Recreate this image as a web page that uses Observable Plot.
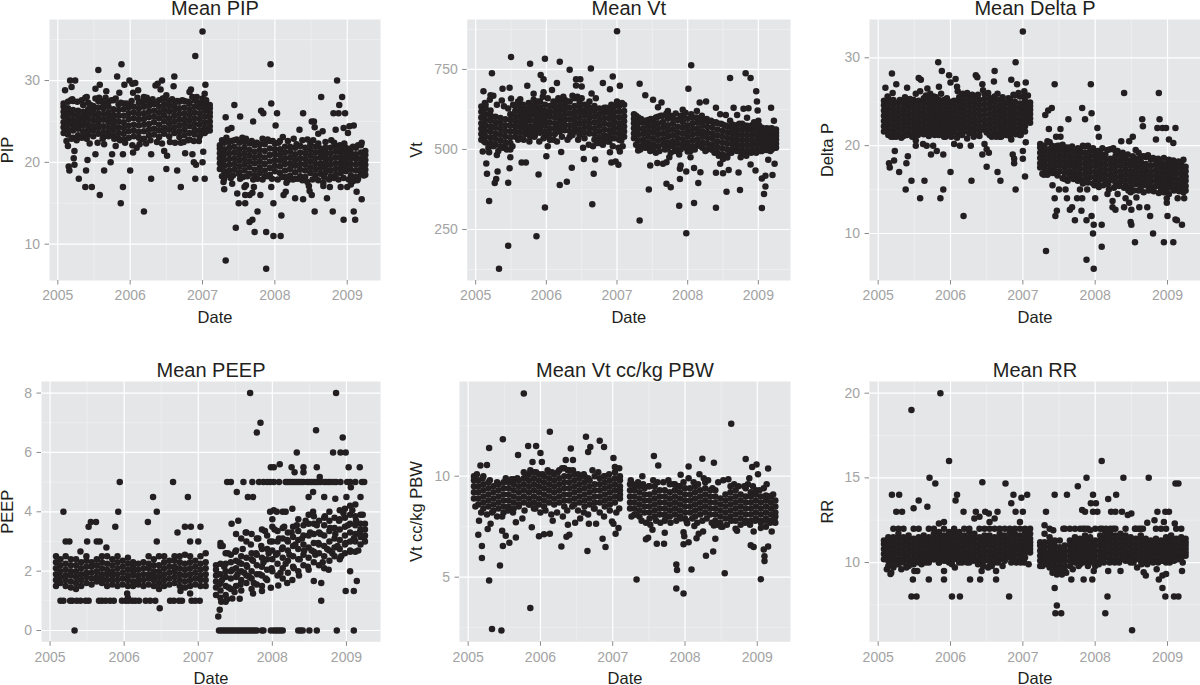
<!DOCTYPE html>
<html><head><meta charset="utf-8">
<script src="https://cdn.jsdelivr.net/npm/d3@7"></script>
<script src="https://cdn.jsdelivr.net/npm/@observablehq/plot@0.6"></script>
<style>
html,body{margin:0;padding:0;background:#fff;width:1200px;height:685px;overflow:hidden}
#chart{position:relative;width:1200px;height:685px}
#chart svg{position:absolute;overflow:visible;background:transparent}
</style></head><body><div id="chart"></div>
<script>
const majorYears=[2005,2006,2007,2008,2009];
const minorYears=[2005.5,2006.5,2007.5,2008.5];
// dates of the dense columns of each cloud
const coreDates=[2005.08,2005.14,2005.21,2005.28,2005.35,2005.42,2005.49,2005.56,2005.63,2005.70,2005.77,2005.84,2005.91,2005.98,2006.05,2006.12,2006.19,2006.26,2006.33,2006.40,2006.47,2006.54,2006.61,2006.68,2006.75,2006.82,2006.89,2006.96,2007.03,2007.10,
2007.24,2007.30,2007.37,2007.44,2007.51,2007.58,2007.65,2007.72,2007.79,2007.86,2007.93,2008.00,2008.07,2008.14,2008.21,2008.28,2008.35,2008.42,2008.49,2008.56,2008.63,2008.70,2008.77,2008.84,2008.91,2008.98,2009.05,2009.12,2009.19,2009.25];
const pipCore=[[23.6,24.3,24.9,25.6,26.2,26.8,27.2],[23.4,24,24.7,25.3,26,26.6,27.4],[23,23.9,24.5,25.1,25.8,26.4,27.5],[23.3,24.1,24.6,25.2,25.7,26.3],[23.1,23.8,24.5,25,25.6,26.2,27],[23.4,24,24.6,25.3,25.9,26.5,27.3],[23.2,23.9,24.4,25.1,25.8,26.4,26.9],[23.5,24.2,24.8,25.4,26,26.7,27.5],[23.1,23.7,24.4,25.2,25.9,26.6,27.2],[23.6,24.2,24.9,25.5,26.1,26.8,27.4],[23.3,24,24.6,25.2,25.8,26.5,27.6],[22.9,23.6,24.3,25,25.7,26.4,27.1],[22.8,23.5,24.2,24.9,25.7,26.5,27.2],[23,23.8,24.5,25.3,26,26.7,27],[23.2,23.9,24.6,25.4,26.1,26.8],[23,23.7,24.5,25.2,25.9,26.6,27.3],[22.9,23.8,24.6,25.3,26,26.8,27.5],[23.3,24,24.7,25.5,26.2,26.9,27.4],[23.4,24.1,24.9,25.6,26.3,27.1],[23.1,23.9,24.6,25.4,26.1,26.8,27.6],[23.5,24.2,25,25.7,26.4,27.1,27.8],[23.2,24,24.7,25.4,26.2,26.9,27.5],[23.6,24.3,25,25.7,26.4,27],[23.1,23.8,24.5,25.2,25.9,26.6,27.4],[23.3,24,24.7,25.3,26,26.7,27.5],[22.8,23.6,24.4,25.1,25.8,26.5,27.2],[23.4,24,24.7,25.4,26.1,26.8,27.6],[23.2,23.9,24.6,25.3,26,26.7,27.3],[23.6,24.2,24.9,25.6,26.3,26.9,27.2],[23.9,24.4,25,25.6,26.1,26.6,27],
[19.2,19.9,20.5,21.1,21.7,22.1],[18.9,19.6,20.3,21,21.6,22.4],[19,19.7,20.4,21.1,21.8,22.5],[19.1,19.8,20.5,21.2,21.9,22.7],[18.8,19.5,20.2,20.9,21.6,22.4],[19,19.7,20.4,21.1,21.8,22.5],[18.6,19.4,20.1,20.8,21.5,22.3],[18.4,19.1,19.9,20.6,21.3,22.1],[18.7,19.4,20.1,20.8,21.5,22.2],[18.3,19,19.8,20.6,21.4,22.2],[18.5,19.3,20.1,20.9,21.7,22.6],[18.9,19.6,20.3,21,21.6,22.3],[18.7,19.5,20.2,20.9,21.6,22.6],[18.2,19,19.8,20.5,21.2,21.9],[18.4,19.2,19.9,20.6,21.3,21.9],[18,18.8,19.6,20.3,21,21.8],[18.3,19.1,19.8,20.5,21.2,22],[18.2,19,19.7,20.4,21.1,21.8],[18.7,19.4,20.1,20.8,21.5,22.2],[18.4,19.1,19.8,20.5,21.2,21.9],[18.6,19.3,19.9,20.6,21.2,21.7],[18.8,19.4,20,20.6,21.2,21.8],[18.3,19,19.7,20.4,21.1,21.8],[18.5,19.2,19.9,20.6,21.3,22],[18.7,19.3,19.9,20.5,21.1,21.6],[18.9,19.5,20.1,20.7,21.3,21.8],[18.4,19.1,19.8,20.5,21.1,21.7],[18.2,19,19.7,20.4,21,21.8],[18.6,19.2,19.9,20.5,21.2,22.1],[18.5,19.1,19.7,20.3,20.9,21.4]];
const vtCore=[[530,548,565,582,600,618,634],[522,540,558,575,592,610,628,640],[520,537,555,572,590,606,622],[515,533,550,568,585,602],[510,528,546,564,582,598],[505,522,540,558,576,594],[500,520,538,556,574,592,610],[540,556,572,588,604,620,636],[535,552,570,586,602,618,634],[548,564,580,596,612,628],[540,556,572,590,606,622,638],[545,560,576,592,610,626,640],[552,568,584,600,616,632,650],[540,556,574,590,606,622,640],[530,548,566,584,602,618,636],[548,565,582,600,616,632,648],[555,572,588,604,620,636,652],[560,576,592,608,624,640,655],[540,558,576,594,612,630,650],[555,570,586,602,618,636,660],[545,562,580,598,616,632,648],[535,552,570,588,606,622,640],[550,566,582,598,614,630,650],[530,548,566,584,602,620,636],[520,538,556,574,592,610,628],[528,544,562,580,598,616,630],[525,542,560,578,596,612,626],[535,552,568,586,602,618,634],[530,548,566,582,600,618,636],[540,556,572,588,604,620,640],
[535,550,566,582,596,610],[510,528,546,564,582,600],[515,532,550,566,584,590],[505,522,540,558,576,592],[498,516,534,552,570,588],[510,528,546,564,582,602],[515,532,550,568,586,605],[505,522,540,558,576,596],[510,526,544,562,580,598],[500,518,536,554,572,592],[515,532,550,568,586,604],[505,522,540,558,576,596],[510,528,546,564,582,600],[515,532,550,566,584,598],[505,522,540,556,574,590],[500,518,536,552,570,588],[498,516,534,550,568,586],[490,508,526,544,562,582],[485,504,522,540,558,578],[482,500,518,536,554,572],[500,516,532,548,564,578],[496,512,528,544,560,576],[498,514,530,546,562,580],[495,512,528,544,560,574],[498,514,530,546,562,576],[500,516,530,546,560,574],[495,512,528,542,556,568],[498,512,526,540,554,566],[500,514,528,542,554,566],[505,518,530,542,552,562]];
const deltaCore=[[21.6,22.2,22.8,23.4,24,24.6,25.1],[21.2,21.8,22.4,23,23.6,24.2,24.8,25.4],[21,21.6,22.2,22.8,23.4,24,24.6,25.2],[21.3,21.9,22.5,23.1,23.7,24.3,24.9],[21.1,21.7,22.3,22.9,23.5,24.1,24.7,25],[21.4,22,22.6,23.2,23.8,24.4,24.9],[21.2,21.8,22.4,23,23.6,24.2,24.8,25.2],[21.5,22.1,22.7,23.3,23.9,24.5,25.1],[21.3,21.9,22.5,23.1,23.7,24.3,24.9,25.4],[21.1,21.7,22.3,22.9,23.5,24.1,24.7,25.3],[21.4,22,22.6,23.2,23.8,24.4,25,25.6],[21.2,21.8,22.4,23,23.6,24.2,24.8,25.2],[21,21.6,22.2,22.8,23.4,24,24.6,25.2],[21.3,21.9,22.5,23.1,23.7,24.3,24.9],[21.5,22.1,22.7,23.3,23.9,24.5,25.1],[21.3,21.9,22.5,23.1,23.7,24.3,24.9,25.5],[21.6,22.2,22.8,23.4,24,24.6,25.2,25.8],[21.4,22,22.6,23.2,23.8,24.4,25,25.6],[21.2,21.8,22.4,23,23.6,24.2,24.8,25.4],[21.6,22.2,22.8,23.4,24,24.6,25.2],[21.8,22.3,22.9,23.5,24.1,24.7,25.3,25.9],[21.2,21.8,22.4,23,23.6,24.2,24.8,25.4],[21.4,22,22.6,23.2,23.8,24.4,25,25.6],[21,21.6,22.2,22.8,23.4,24,24.6,25.2],[21.3,21.9,22.5,23.1,23.7,24.3,24.9],[21.1,21.7,22.3,22.9,23.5,24.1,24.7,25.3],[21.4,22,22.6,23.2,23.8,24.4,25,25.7],[21.2,21.8,22.4,23,23.6,24.2,24.8,25.6],[21.6,22.2,22.8,23.4,24,24.6,25.1],[22.6,23.1,23.6,24.1,24.5,24.9],
[17.5,18,18.6,19.2,19.8,20.2],[17,17.6,18.2,18.8,19.4,20],[17.2,17.8,18.4,19,19.6,20.4],[16.9,17.5,18.1,18.7,19.3,19.9],[17.1,17.7,18.3,18.9,19.5,20],[16.2,16.9,17.5,18.1,18.7,19.3,19.8],[16.5,17.1,17.7,18.3,18.9,19.5],[16.3,16.9,17.5,18.1,18.7,19.3],[16.1,16.7,17.3,17.9,18.5,19.1,19.5],[16.2,16.8,17.4,18,18.6,19.2,19.9],[16.4,17,17.6,18.2,18.8,19.4],[15.9,16.5,17.1,17.7,18.3,18.9,19.4],[16.2,16.8,17.4,18,18.6,19.1],[16,16.6,17.2,17.8,18.4,19],[16.1,16.7,17.3,17.9,18.5,19.6],[15.8,16.4,17,17.6,18.2,18.8,19.4],[15.9,16.5,17.1,17.7,18.3,18.9],[15.5,16.1,16.7,17.3,17.9,18.5,18.9],[15.3,15.9,16.5,17.1,17.7,18.3],[15.6,16.2,16.8,17.4,18,18.5,19.5],[15.2,15.8,16.4,17,17.6,18.2,18.8],[15.5,16.1,16.7,17.3,17.9,18.7],[15.3,15.9,16.5,17.1,17.7,18.4],[15.4,16,16.6,17.2,17.8,18.3],[15.1,15.7,16.3,16.9,17.5,18],[14.9,15.5,16.1,16.7,17.3,17.9],[15.2,15.8,16.4,17,17.6,18.2],[15,15.6,16.2,16.8,17.4,18],[15.2,15.8,16.3,16.9,17.4,17.9],[14.9,15.4,16,16.5,17.1,17.6]];
const peepCore=[[1.5,1.7,1.9,2.1,2.3,2.5],[1.6,1.8,2,2.2,2.4],[1.5,1.7,1.85,2.05,2.25,2.5],[1.45,1.65,1.85,2,2.2,2.4],[1.4,1.6,1.8,2,2.2,2.4],[1.5,1.7,1.9,2.1,2.3],[1.6,1.8,1.95,2.15,2.35,2.5],[1.55,1.75,1.95,2.15,2.3],[1.65,1.8,2,2.2,2.4],[1.6,1.75,1.9,2.1,2.3,2.5],[1.5,1.7,1.9,2.05,2.25,2.5],[1.55,1.7,1.85,2,2.2,2.4],[1.5,1.7,1.9,2.1,2.3,2.5],[1.55,1.75,1.95,2.15,2.35],[1.5,1.7,1.85,2.05,2.25,2.45],[1.5,1.65,1.85,2,2.15,2.3],[1.55,1.7,1.85,2.05,2.25],[1.5,1.7,1.9,2.1,2.3],[1.55,1.75,1.9,2.1,2.25,2.5],[1.5,1.7,1.85,2,2.2,2.4],[1.4,1.6,1.8,2,2.2,2.5],[1.5,1.7,1.9,2.1,2.3,2.5],[1.55,1.75,1.95,2.15,2.35],[1.6,1.8,2,2.15,2.35,2.5],[1.5,1.7,1.9,2.1,2.3,2.5],[1.45,1.65,1.85,2.05,2.25,2.55],[1.5,1.7,1.9,2.1,2.3,2.5],[1.55,1.75,1.95,2.15,2.35],[1.5,1.7,1.85,2.05,2.25,2.5],[1.5,1.7,1.9,2.1,2.3,2.6],
[1.2,1.45,1.65,1.85,2.05,2.2],[1.1,1.35,1.6,1.9,2.25,2.85],[1.2,1.5,1.8,2,2.25,2.6],[1.4,1.75,2,2.3,2.55],[1.5,1.8,2.1,2.35,2.7,3.25],[1.35,1.7,2,2.25,2.5,3.1],[1.6,1.85,2.2,2.45,3,3.3],[1.4,1.75,2,2.4,2.6,3.25],[1.55,1.9,2.2,2.55,3.1],[1.5,1.85,2.15,2.45,2.75,3.4],[1.7,2.05,2.4,2.75,3.2],[2,2.4,2.7,3,3.5,3.75],[1.85,2.25,2.6,3,3.35],[1.75,2.1,2.45,2.8,3.1,3.45],[1.95,2.35,2.7,3,3.3],[2.15,2.5,2.85,3.15,3.5],[2,2.4,2.75,3.05,3.35,3.75],[2.2,2.55,2.9,3.2,3.55],[2.05,2.45,2.8,3.2,3.6,3.9],[2.3,2.65,2.95,3.25,3.6,3.85],[2.2,2.6,2.9,3.3,3.7],[2.1,2.5,2.85,3.2,3.55,3.8],[2.35,2.7,3,3.35,3.7,4],[2.5,2.8,3.1,3.45,3.8],[2.4,2.75,3.05,3.4,3.75,4.05],[2.6,2.9,3.2,3.5,3.8,4.1],[2.7,3,3.3,3.6,3.9,4.2],[2.65,3,3.25,3.55,3.85,4.25],[2.9,3.15,3.4,3.6,3.9],[3,3.2,3.4,3.6]];
const vtKgCore=[[8.9,9.2,9.5,9.8,10],[8.6,8.9,9.2,9.5,9.8],[8.4,8.7,9,9.3,9.6,10],[8.5,8.8,9.1,9.4,9.7],[8.3,8.6,8.9,9.2,9.5],[8.4,8.7,9,9.3,9.6],[8.2,8.5,8.8,9.1,9.4,9.7],[8.5,8.8,9.1,9.4,9.7],[8.4,8.7,9,9.3,9.6,9.85],[8.6,8.9,9.2,9.5,9.8],[8.7,9,9.3,9.6,9.9,10.2],[8.6,8.9,9.2,9.5,9.8,10.1],[8.4,8.7,9,9.3,9.6,9.9,10.2],[8.6,8.9,9.2,9.5,9.8,10.1],[8.5,8.8,9.1,9.4,9.7,10],[8.7,9,9.3,9.6,9.9,10.2],[8.6,8.9,9.2,9.5,9.8,10.1],[8.7,9,9.3,9.6,9.9,10.3],[8.5,8.8,9.1,9.4,9.7,10,10.4],[8.8,9.1,9.4,9.7,10,10.3],[8.6,8.9,9.2,9.5,9.8,10.1],[8.7,9,9.3,9.6,9.9],[8.5,8.8,9.1,9.4,9.7,10],[8.6,8.9,9.2,9.5,9.8],[8.4,8.7,9,9.3,9.6,10],[8.7,9,9.3,9.6,9.9],[8.5,8.8,9.1,9.4,9.7,10],[8.6,8.9,9.2,9.5,9.8],[8.7,9,9.3,9.6,9.9,10.2],[8.9,9.1,9.3,9.5,9.8,10],
[8.4,8.7,9,9.3,9.6],[8.1,8.4,8.7,9,9.3,9.5],[8,8.3,8.6,8.9,9.2,9.5],[8.2,8.5,8.8,9.1,9.4],[7.9,8.2,8.5,8.8,9.1,9.5],[8,8.3,8.6,8.9,9.2,9.5],[8.1,8.4,8.7,9,9.3],[7.8,8.1,8.4,8.7,9,9.3],[8,8.3,8.6,8.9,9.2,9.6],[8.1,8.4,8.7,9,9.3,9.6],[8,8.3,8.6,8.9,9.2,9.5],[7.9,8.2,8.5,8.8,9.1,9.4],[8.2,8.5,8.8,9.1,9.4],[8,8.3,8.6,8.9,9.2,9.5],[8.1,8.4,8.7,9,9.3],[8.2,8.5,8.8,9.1,9.4,9.7],[8.1,8.4,8.7,9,9.3],[7.8,8.1,8.4,8.7,9,9.3],[7.7,8,8.3,8.6,8.9],[7.9,8.2,8.5,8.8,9.1],[8,8.3,8.6,8.9,9.2,9.5],[7.8,8.1,8.4,8.7,9,9.3],[7.9,8.2,8.5,8.8,9.1],[7.8,8.1,8.4,8.7,9,9.4],[7.8,8.1,8.4,8.7,9,9.2],[7.9,8.2,8.5,8.8,9.1,9.3],[7.8,8.1,8.4,8.7,9],[7.9,8.2,8.5,8.8,9.05],[7.8,8.1,8.4,8.7,9],[7.7,8,8.2,8.5,8.8]];
const rrCore=[[10.2,10.5,10.8,11.1,11.3],[9.8,10.1,10.4,10.7,11,11.3,11.5],[9.7,10,10.3,10.6,10.9,11.2,11.5,12],[9.9,10.2,10.5,10.8,11.1,11.4,11.7,12],[10,10.3,10.6,10.9,11.2,11.5,12],[9.8,10.1,10.4,10.7,11,11.3,11.6],[9.9,10.2,10.5,10.8,11.1,11.4,12],[10,10.3,10.6,10.9,11.2,11.5,12],[10.1,10.4,10.7,11,11.3,11.6],[10,10.3,10.6,10.9,11.2,11.5,12],[10.2,10.5,10.8,11.1,11.4,11.7,12],[10,10.3,10.6,10.9,11.2,11.5,11.8,12.3],[10.1,10.4,10.7,11,11.3,11.6,12,12.4],[10,10.3,10.6,10.9,11.2,11.5,11.8],[10.2,10.5,10.8,11.1,11.4,11.7,12],[10,10.3,10.6,10.9,11.2,11.5,11.8],[10.1,10.4,10.7,11,11.3,11.6,12],[10,10.3,10.6,10.9,11.2,11.5,11.8,12],[10.2,10.5,10.8,11.1,11.4,11.7,12.6],[10,10.3,10.6,10.9,11.2,11.5,12,12.7],[10.1,10.4,10.7,11,11.3,11.6,12],[9.8,10.1,10.4,10.7,11,11.3,11.6,12,12.4],[10,10.3,10.6,10.9,11.2,11.5,12,12.6],[10.2,10.5,10.8,11.1,11.4,11.7,12],[10.1,10.4,10.7,11,11.3,11.6,12],[10.3,10.6,10.9,11.2,11.5,11.8,12],[10.2,10.5,10.8,11.1,11.4,11.7,12],[10.1,10.4,10.7,11,11.3,11.6,12,12.4],[10.3,10.6,10.9,11.2,11.5,11.8,12],[10.6,10.8,11,11.2,11.4,11.7,12],
[9.8,10.1,10.4,10.7,11,11.2],[10,10.3,10.6,10.9,11.2,11.7,12.2],[9.7,10,10.3,10.6,10.9,11.2,11.5],[9.5,9.8,10.1,10.4,10.7,11,11.3],[9.4,9.7,10,10.3,10.6,10.9,11.3],[9.5,9.8,10.1,10.4,10.7,11,12],[9.8,10.1,10.4,10.7,11,11.3,12],[10,10.3,10.6,10.9,11.2,11.5,12],[9.9,10.2,10.5,10.8,11.1,11.4,12],[10.1,10.4,10.7,11,11.3,11.6,12],[10,10.3,10.6,10.9,11.2,11.5,11.9],[9.8,10.1,10.4,10.7,11,11.3,12],[10.1,10.4,10.7,11,11.3,11.6,12],[10.3,10.6,10.9,11.2,11.5,11.8],[10.2,10.5,10.8,11.1,11.4,11.7,12],[10.1,10.4,10.7,11,11.3,11.6,12],[10.2,10.5,10.8,11.1,11.4,11.7],[10.1,10.4,10.7,11,11.3,11.6,12],[10,10.3,10.6,10.9,11.2,11.5],[10.2,10.5,10.8,11.1,11.4,12],[10.1,10.4,10.7,11,11.3,11.6,12],[10,10.3,10.6,10.9,11.2,11.4],[10.1,10.4,10.7,11,11.3],[10.2,10.5,10.8,11.1,11.4,12],[10.1,10.4,10.7,11,11.3,12],[10,10.3,10.6,10.9,11.2,11.5,12],[10.1,10.4,10.7,11,11.3,11.6],[10.2,10.5,10.8,11.1,11.4,12],[10.3,10.6,10.9,11.2,11.5,12],[10.4,10.6,10.8,11,11.2,11.4]];
// sparse points, date then value
const pipOut=[2007,36,2006.9,33,2007.94,32,2005.88,32,2005.56,31.3,2005.82,30.5,2006.61,30.5,2005.17,30,2005.24,30,2005.99,30,2006.44,30,2008.86,30,2008.93,28,2008.64,28,2008.89,27,2007.44,27,2008.81,26,2008.88,26,2008.97,26,2008.39,26,2008.03,26,2007.81,26.3,2007.84,26,2007.95,27.2,2007.32,25.5,2007.52,25.6,2007.7,25,2008.01,24.5,2008.51,25,2008.54,25,2008.55,24.3,2008.66,23.8,2008.34,24,2008.6,23.5,2008.84,24,2008.95,24.2,2009.03,24.4,2009.09,24.5,2009.01,23.6,2007.35,24,2007.4,24.2,2005.1,28.8,2005.19,29.2,2005.52,29,2005.58,29.5,2005.67,28.7,2005.85,28.5,2005.92,29.5,2006.03,29.6,2006.07,29.7,2006.04,28.5,2006.11,28.8,2006.19,28,2006.35,29.4,2006.38,29.6,2006.42,28.9,2006.6,29.3,2006.84,28.9,2006.82,28.6,2007.04,29.5,2007.03,28.4,2006.92,28,2005.4,28,2005.18,27.6,2005.57,27.9,2005.14,22,2005.23,21.4,2005.22,20.5,2005.23,19.7,2005.15,19.5,2005.16,19,2005.29,18,2005.39,19,2005.41,20.3,2005.52,21,2005.38,17,2005.47,17,2005.58,16,2005.64,19,2005.73,20,2005.75,21,2005.8,22,2005.64,22.2,2005.9,21,2005.9,17,2005.87,15,2006,19,2006.04,21.2,2006.19,14,2006.29,18,2006.29,21,2006.13,22.2,2006.5,19.2,2006.51,20.8,2006.47,21.4,2006.65,19,2006.7,17,2006.76,21.1,2006.86,21,2006.9,18,2006.88,20,2006.91,19.7,2007,20,2007.01,21.3,2007.03,18,2006.95,22.6,2007.3,16.7,2007.29,17.6,2007.3,18,2007.41,17.4,2007.39,18.1,2007.52,18,2007.48,16.2,2007.5,15,2007.59,15,2007.58,17,2007.6,17.2,2007.59,16,2007.65,16,2007.69,16.3,2007.71,17,2007.76,14,2007.65,12.7,2007.69,13,2007.72,11.5,2007.46,12,2007.32,8,2007.88,7,2007.88,11.5,2007.98,11,2008.08,11,2008.09,13.5,2007.98,15,2007.95,17,2007.8,16,2008.12,16,2008.15,16.4,2008.16,17.5,2008.28,15.6,2008.39,15.5,2008.55,14,2008.51,16,2008.48,16.5,2008.47,17.1,2008.67,17.5,2008.67,17.1,2008.76,17,2008.72,15.6,2008.8,14,2008.91,17,2008.95,13,2009,17,2009.05,17.3,2009.09,14,2009.11,13,2009.13,16.4,2009.2,15.5,2009.14,17.8];
const pipEdge=[2005.2,27.7,2005.27,27.4,2005.33,27.6,2005.38,27.9,2005.45,27,2005.52,27.8,2005.6,27.5,2005.66,27.9,2005.74,27.6,2005.8,27.8,2005.87,27.3,2005.95,27.2,2006.02,27.5,2006.1,27.9,2006.16,27.4,2006.23,27.9,2006.31,27.7,2006.37,27.3,2006.45,27.8,2006.5,28.2,2006.58,27.7,2006.65,27.5,2006.72,27.6,2006.8,27.4,2006.86,28,2006.93,27.3,2007,27.8,2007.05,27.6,2005.12,22.6,2005.19,22.9,2005.26,22.7,2005.33,23,2005.4,22.9,2005.44,22.3,2005.55,22.4,2005.62,22.9,2005.7,23.2,2005.78,22.9,2005.86,22.7,2005.93,22.4,2006.03,22.1,2006.09,21.8,2006.15,22.8,2006.22,22.3,2006.28,22.7,2006.37,22.5,2006.44,22.3,2006.55,22.5,2006.62,22.4,2006.7,22.4,2006.74,22.5,2006.8,22.7,2006.88,22.6,2006.98,23.5,2007.05,23.8,2007.27,22.7,2007.33,23,2007.4,22.6,2007.47,22.8,2007.55,23,2007.6,22.9,2007.68,22.6,2007.75,22.4,2007.83,22.9,2007.9,22.8,2007.97,22.6,2008.05,22.4,2008.11,23.1,2008.18,22.6,2008.26,22.9,2008.3,22.2,2008.38,22.7,2008.45,22.8,2008.53,22.7,2008.6,22.3,2008.7,22.5,2008.78,22.7,2008.82,22.4,2008.9,22.1,2008.96,22.3,2009.08,21.9,2009.15,22.1,2009.2,22.4,2007.27,18.3,2007.34,18.5,2007.42,18.4,2007.5,18.6,2007.56,18.2,2007.62,18.3,2007.7,17.9,2007.76,18,2007.83,17.9,2007.9,18.3,2007.96,18,2008.04,17.9,2008.1,18.2,2008.18,17.8,2008.25,17.9,2008.32,18,2008.38,17.8,2008.45,17.6,2008.52,17.9,2008.6,17.8,2008.68,18.2,2008.75,17.9,2008.82,18.1,2008.88,17.9,2008.95,18.1,2009.02,17.9,2009.08,17.7,2009.15,18,2009.23,18.4];
const vtOut=[2007,869,2005.5,789,2005.77,768,2005.98,783,2006.19,774,2006.33,749,2006.63,753,2005.23,738,2005.92,733,2005.96,719,2006.42,719,2006.48,719,2006.94,728,2007.32,705,2008.05,763,2008.01,690,2008.6,723,2008.82,738,2008.89,723,2008.97,682,2008.98,650,2005.11,682,2005.38,690,2005.48,693,2005.73,699,2006.08,686,2006.15,708,2006.42,700,2006.5,697,2006.8,708,2006.9,688,2007.04,699,2005.21,669,2005.25,668,2005.37,653,2005.5,659,2005.63,657,2005.82,674,2005.96,679,2007.4,669,2007.51,655,2007.63,647,2007.58,632,2008.17,647,2008.26,650,2008.4,630,2008.65,630,2008.79,627,2008.86,629,2009.18,630,2008.99,622,2008.46,610,2008.54,608,2008.7,608,2008.84,599,2009.22,590,2009,590,2007.93,624,2008.13,620,2007.72,620,2005.1,494,2005.19,491,2005.3,483,2005.15,456,2005.16,424,2005.31,431,2005.29,408,2005.27,395,2005.19,339,2005.33,127,2005.46,199,2005.86,229,2005.98,319,2005.89,422,2005.46,396,2005.48,441,2005.49,476,2005.65,459,2005.71,459,2006,479,2006.21,492,2006.19,389,2006.29,399,2006.36,443,2006.53,470,2006.65,329,2006.67,424,2006.69,469,2006.9,491,2006.92,459,2006.98,462,2007.02,452,2007.04,494,2007.06,528,2007.3,497,2007.32,278,2007.45,375,2007.47,450,2007.57,458,2007.65,455,2007.7,460,2007.74,476,2007.7,393,2007.76,382,2007.88,324,2007.98,238,2008.09,333,2007.89,408,2007.89,440,2007.9,450,2007.98,431,2008.09,442,2008.15,395,2008.18,429,2008.4,318,2008.4,427,2008.46,455,2008.5,426,2008.58,436,2008.55,368,2008.74,373,2008.72,428,2008.75,476,2008.89,453,2008.96,434,2009.05,317,2009.08,361,2009.1,384,2009.05,409,2009.1,418,2009.2,420,2009.14,468,2009.23,455,2007.88,484,2008,494,2008.04,476];
const vtEdge=[2005.13,645,2005.2,655,2005.3,640,2005.4,635,2005.46,628,2005.53,640,2005.6,650,2005.67,640,2005.75,645,2005.82,655,2005.88,650,2005.95,665,2006.02,660,2006.1,650,2006.17,660,2006.24,665,2006.3,650,2006.37,668,2006.44,665,2006.5,660,2006.58,640,2006.64,675,2006.7,660,2006.78,625,2006.85,630,2006.92,640,2007,650,2007.07,645,2005.12,525,2005.18,505,2005.25,510,2005.32,495,2005.38,505,2005.44,500,2005.52,510,2005.6,530,2005.68,530,2005.76,525,2005.83,540,2005.9,525,2005.96,535,2006.02,510,2006.1,530,2006.15,525,2006.22,540,2006.3,530,2006.37,545,2006.45,530,2006.52,505,2006.6,515,2006.66,510,2006.72,520,2006.8,515,2006.87,525,2006.94,510,2007.02,505,2007.08,510,2007.27,605,2007.34,595,2007.41,590,2007.48,595,2007.55,600,2007.62,605,2007.7,612,2007.76,605,2007.83,612,2007.9,605,2007.97,615,2008.05,610,2008.12,600,2008.2,605,2008.27,595,2008.33,590,2008.4,585,2008.47,580,2008.53,575,2008.6,590,2008.66,575,2008.73,580,2008.8,575,2008.87,570,2008.94,585,2009.01,575,2009.08,565,2009.16,565,2009.23,560,2007.27,515,2007.33,500,2007.4,505,2007.47,495,2007.55,490,2007.6,495,2007.68,500,2007.76,490,2007.82,495,2007.9,500,2007.97,505,2008.04,495,2008.1,500,2008.18,510,2008.25,495,2008.32,505,2008.38,490,2008.44,480,2008.5,470,2008.56,475,2008.62,490,2008.7,495,2008.76,490,2008.83,480,2008.9,490,2008.97,490,2009.03,495,2009.1,500,2009.17,495,2009.23,505];
const deltaOut=[2007,33,2005.83,29.5,2006.9,29.5,2005.88,28.5,2005.19,28.2,2006.61,28.5,2005.98,28,2006.35,28,2006.37,27.8,2006.07,27.6,2005.56,27.7,2005.59,27.5,2006.84,27.5,2006.6,27.3,2007.04,27.2,2006,27.2,2007.44,27,2007.94,27,2006.92,27,2006.44,27,2008.4,26,2008.88,26,2005.1,26.6,2005.25,27,2005.4,26.6,2005.68,26.5,2005.84,26.7,2006.09,26.7,2007.02,26.2,2007.82,24.3,2007.95,23.7,2007.4,24.3,2007.35,24,2007.31,23.5,2007.63,23,2007.86,23,2008.65,23,2008.89,23,2008.66,22.2,2008.03,22,2008.86,22,2008.93,22,2008.98,22,2009.11,22,2007.52,21.9,2007.36,21.9,2008.05,21,2008.36,20.5,2008.52,21,2008.47,20.5,2008.84,20.7,2009.02,20.7,2009.08,20.3,2007.46,21,2007.52,21,2005.23,19.4,2005.15,18,2005.22,18.3,2005.16,17.5,2005.29,17,2005.39,18,2005.41,18.8,2005.38,15,2005.46,16,2005.58,14,2005.64,16,2005.52,20.6,2005.52,20,2005.62,20.2,2005.67,20,2005.73,19,2005.76,20,2005.81,19.4,2005.9,19,2005.9,15,2005.86,14,2006,17,2006.05,20.2,2006.13,20,2006.18,12,2006.29,16,2006.28,20,2006.44,19,2006.47,20.2,2006.5,19.6,2006.5,17.6,2006.53,19.2,2006.65,17,2006.69,16,2006.86,19,2006.88,18.5,2006.88,18,2006.9,15,2007,19.4,2007,18.5,2007.04,20.4,2007.03,16.5,2007.29,16.7,2007.41,15.5,2007.5,15,2007.44,14,2007.47,12.6,2007.45,12,2007.32,8,2007.59,15,2007.61,14,2007.65,12.7,2007.68,13,2007.72,11.5,2007.75,14,2007.82,14,2007.79,15,2007.81,12.6,2007.88,11.5,2007.95,12,2007.98,11,2007.97,10,2007.88,7,2007.98,6,2008.09,8.5,2008.09,11,2008,14,2007.99,15.5,2008.05,15.3,2007.89,15,2008.17,14.5,2008.19,15,2008.24,13.7,2008.24,13,2008.28,12.7,2008.31,14.5,2008.4,13,2008.42,14,2008.47,13.5,2008.49,14.7,2008.5,12.7,2008.49,11.3,2008.5,11,2008.55,9,2008.57,14.1,2008.61,13,2008.72,13,2008.76,12,2008.8,10,2008.95,9,2009.08,9,2009,12,2009.11,11.6,2009.13,11.5,2009.2,11,2008.99,13.5,2008.99,14,2009.14,14,2009.23,14];
const deltaEdge=[2005.13,25.6,2005.2,26,2005.3,25.2,2005.37,25.5,2005.44,25.3,2005.52,25.9,2005.58,26.2,2005.66,25.7,2005.72,25.9,2005.8,25.5,2005.87,25.9,2005.95,25.4,2006.02,25,2006.1,26.2,2006.17,25.9,2006.23,26,2006.3,25.8,2006.38,25.8,2006.45,26.3,2006.52,26,2006.58,25.4,2006.65,25.9,2006.72,25.5,2006.8,25.4,2006.87,25.8,2006.94,26,2007.01,25.6,2007.07,25.7,2005.1,21.8,2005.18,21,2005.25,21,2005.32,20.9,2005.4,21.2,2005.47,21,2005.55,21.2,2005.62,21.5,2005.7,21.3,2005.78,21.2,2005.85,21.4,2005.93,21,2006.01,21,2006.09,20.9,2006.16,21.2,2006.23,20.8,2006.32,21,2006.4,21.1,2006.5,21.5,2006.57,21,2006.63,21,2006.7,21,2006.77,21.2,2006.84,20.7,2006.9,21.3,2006.97,21.2,2007.27,16.8,2007.34,16.7,2007.41,16.9,2007.48,16.6,2007.55,16.3,2007.62,16,2007.7,16.2,2007.76,16,2007.83,15.7,2007.9,15.8,2007.97,15.7,2008.04,15.6,2008.11,15.5,2008.18,15.6,2008.26,15.2,2008.33,15.4,2008.4,15.2,2008.46,14.9,2008.53,14.9,2008.6,14.9,2008.67,14.7,2008.74,14.9,2008.81,14.8,2008.88,14.6,2008.95,14.7,2009.02,14.5,2009.09,14.9,2009.16,14.8,2009.22,14.7,2007.27,20,2007.34,20.5,2007.4,20,2007.48,20,2007.55,20.1,2007.62,19.8,2007.68,19.9,2007.76,19.7,2007.83,20,2007.9,20,2007.97,19.7,2008.04,19.4,2008.1,19.7,2008.17,19.5,2008.25,19.7,2008.31,19.4,2008.38,19.2,2008.45,19,2008.52,18.8,2008.6,19.2,2008.67,18.8,2008.73,18.9,2008.8,18.6,2008.87,18.5,2008.95,18.6,2009.02,18.4,2009.08,18.3,2009.15,18.2,2009.22,18.4];
const peepOut=[2005.14,1,2005.18,1,2005.27,1,2005.3,1,2005.36,1,2005.41,1,2005.48,1,2005.52,1,2005.66,1,2005.7,1,2005.75,1,2005.81,1,2005.86,1,2005.97,1,2006.02,1,2006.06,1,2006.11,1,2006.15,1,2006.2,1,2006.29,1,2006.35,1,2006.42,1,2006.62,1,2006.67,1,2006.74,1,2006.78,1,2006.91,1,2006.96,1,2007.02,1,2005.33,0,
2007.28,0,2007.31,0,2007.34,0,2007.37,0,2007.4,0,2007.43,0,2007.46,0,2007.49,0,2007.52,0,2007.55,0,2007.58,0,2007.61,0,2007.64,0,2007.67,0,2007.7,0,2007.73,0,2007.76,0,2007.79,0,2007.86,0,2007.88,0,2007.98,0,2008.02,0,2008.05,0,2008.08,0,2008.11,0,2008.14,0,2008.35,0,2008.38,0,2008.41,0,2008.5,0,2008.6,0,2008.87,0,2009.1,0,
2007.39,5,2007.44,5,2007.61,5,2007.73,5,2007.82,5,2007.88,5,2007.93,5,2007.97,5,2008.02,5,2008.09,5,2008.18,5,2008.21,5,2008.24,5,2008.27,5,2008.3,5,2008.33,5,2008.36,5,2008.39,5,2008.42,5,2008.47,5,2008.5,5,2008.53,5,2008.56,5,2008.59,5,2008.62,5,2008.65,5,2008.7,5,2008.73,5,2008.76,5,2008.79,5,2008.83,5,2008.86,5,2008.92,5,2009.01,5,2009.05,5,2009.12,5,2009.21,5,2009.24,5,
2005.18,4,2005.94,5,2005.92,4,2005.88,3.5,2006.39,4.5,2006.44,4,2006.32,3.66,2006.66,5,2006.86,4.5,2006.72,3.3,2006.82,3.5,2006.9,3.5,2007.03,3.5,2006.89,3,2007,3,2006.44,3,2005.52,3.5,2005.55,3.66,2005.62,3.66,2005.5,3,2005.63,3,2005.67,3,2005.76,2.8,2005.21,3,2005.26,3,2005.41,2.66,2006.48,.75,2006.76,1.33,2006.89,1.25,2006.04,1.25,2006.05,1.1,
2007.7,8,2008.86,8,2007.84,7,2007.79,6.67,2008.59,6.75,2008.95,6.5,2008.33,6,2008.82,6,2008.92,6,2008.99,6,2008.1,5.6,2007.98,5.5,2008.02,5.5,2008.26,5.5,2008.3,5.33,2008.42,5.5,2008.42,5.33,2008.6,5.5,2009.03,5.5,2009.18,5.5,2008.64,5.17,2007.52,4.67,2007.67,4.5,2007.74,4.5,2008.55,4.67,2008.49,4.5,2008.7,4.5,2008.85,4.44,2009,4.5,2009.06,4.83,2009.19,4.5,2007.27,.47,2007.29,.7,2007.31,.97,2007.37,.97,2007.46,1.08,2007.56,1.07,2007.74,1.25,2007.86,1.33,2007.98,1.44,2008.08,1.52,2008.2,1.6,2008.27,1.7,2008.36,1.85,2008.56,1.67,2008.66,1.6,2008.66,1,2008.99,1.33,2009.1,1.33,2009.05,2,2009.14,1.67,2007.97,4,2008.02,4.05,2008.06,4,2008.14,4,2008.18,4,2008.27,4.1,2007.45,3.6,2007.54,3.7,2007.3,2.95,2007.33,2.85,2007.4,2.6];
const peepEdge=[2007.26,1.9,2007.28,1.55,2007.32,1.7,2007.35,2.15,2007.39,1.05,2007.41,1.45,2007.46,2.05,2007.49,1.3,2007.5,2.65,2007.53,1.9,2007.55,2.3,2007.57,1.55,2007.6,2.75,2007.62,1.95,2007.64,3.3,2007.66,2.15,2007.69,1.8,2007.71,2.9,2007.74,2.35,2007.75,1.6,2007.78,2.6,2007.81,3.1,2007.83,1.9,2007.85,2.85,2007.88,2.3,2007.9,3.35,2007.91,1.75,2007.95,2.6,2007.97,3,2007.99,2.1,2008.03,3.4,2008.05,2.55,2008.09,3.1,2008.11,1.95,2008.13,2.75,2008.16,3.5,2008.18,2.25,2008.2,3.05,2008.23,2.55,2008.26,3.3,2008.29,2.1,2008.31,2.9,2008.33,3.55,2008.37,2.4,2008.4,3.1,2008.43,2.7,2008.45,3.7,2008.48,2.15,2008.51,3.3,2008.53,2.7,2008.55,4,2008.58,2.55,2008.6,3.55,2008.62,2.95,2008.65,3.25,2008.68,2.3,2008.71,3.85,2008.74,2.75,2008.76,2.05,2008.78,3.45,2008.81,2.6,2008.85,3.25,2008.88,2.85,2008.9,3.7,2008.93,2.5,2008.96,3.95,2008.99,2.95,2009.02,3.55,2009.05,2.65,2009.08,4.05,2009.1,3.1,2009.13,3.7,2009.16,2.7,2009.18,3.3,2009.22,3.9,2009.24,3.15];
const vtKgOut=[2005.77,14.1,2008.64,12.6,2006.13,12.2,2006.63,11.95,2006.82,11.75,2005.48,11.83,2005.83,11.5,2005.94,11.5,2006.88,11.45,2006.69,11.45,2006.66,11.2,2005.29,11.4,2006.42,11.37,2006,11.15,2005.69,11.05,2007.57,11,2008.24,10.87,2008.84,10.85,2006.35,10.8,2006.45,10.8,2007.01,10.9,2008.4,10.67,2008.99,10.58,2008.93,10.45,2009.15,10.38,2007.63,10.53,2008.05,10.48,2005.26,10.56,2005.17,10.53,2006.02,10.7,2005.89,10.7,2009.01,10.1,2008.89,9.9,2009.13,9.6,2007.41,10,2007.25,9.8,2007.94,10.07,2008.2,10.1,2005.14,7.1,2005.15,7.8,2005.19,6.55,2005.19,5.95,2005.29,4.83,2005.33,2.44,2005.46,2.36,2005.44,5.58,2005.86,3.47,2005.47,7.3,2005.52,7.05,2005.48,6.55,2005.57,6.7,2005.66,6.96,2005.27,7.38,2005.31,7.65,2005.66,7.72,2005.75,7.9,2005.88,7.47,2005.98,7.03,2006.05,7.13,2006.13,7.15,2006.29,6.52,2006.17,7.8,2006.36,7,2006.4,7.1,2006.38,7.6,2006.48,7.7,2006.55,7.9,2006.65,6.3,2006.67,7.64,2006.77,7.65,2006.86,6.9,2006.9,6.5,2006.99,7.76,2007.01,7.65,2007.04,7.15,2007.08,7.43,2007.33,4.88,2007.46,6.88,2007.49,6.95,2007.55,7.35,2007.61,6.65,2007.71,6.65,2007.72,7.2,2007.88,5.63,2007.89,5.36,2007.88,4.44,2007.98,4.19,2008.09,5.38,2007.98,6.63,2008.05,6.73,2007.98,7.23,2007.99,7.03,2008.03,7.67,2008.13,7.54,2008.16,6.93,2008.19,7.15,2008.25,7.26,2008.29,6.06,2008.39,6.27,2008.42,6.9,2008.4,7.56,2008.55,5.2,2008.52,7.5,2008.72,7.3,2008.95,7.26,2008.91,6.58,2008.95,6.5,2009.05,4.9,2009.09,6.37,2009.15,6.52,2009.1,6.04,2009.1,5.8,2009.2,7.26,2009.05,7.44,2009.12,7.5];
const vtKgEdge=[2005.12,10.1,2005.2,9.9,2005.3,9.8,2005.4,9.7,2005.52,9.9,2005.6,9.85,2005.68,9.9,2005.8,10.05,2005.86,10.3,2005.94,10.2,2006.03,10.1,2006.1,10.3,2006.16,10.2,2006.24,10.2,2006.3,10.4,2006.38,10.3,2006.45,10.3,2006.52,10.1,2006.6,10.1,2006.66,9.9,2006.72,10.3,2006.8,10.2,2006.88,10,2006.95,10.1,2007.03,10.45,2007.09,10.4,2005.1,8.5,2005.18,8.2,2005.26,8.1,2005.33,8.2,2005.4,8,2005.47,8,2005.55,8.3,2005.62,8.2,2005.7,8.5,2005.78,8.3,2005.85,8.6,2005.93,8.4,2006,8.2,2006.07,8.3,2006.15,8.1,2006.23,8.2,2006.31,8,2006.37,8.3,2006.44,8.5,2006.52,8.3,2006.6,8.2,2006.66,8.1,2006.74,8.4,2006.82,8.2,2006.88,8,2006.96,8.3,2007.05,8.2,2007.09,8.4,2007.28,9.6,2007.35,9.7,2007.42,9.6,2007.5,9.5,2007.56,9.8,2007.62,9.7,2007.7,9.7,2007.77,9.8,2007.84,9.6,2007.9,9.5,2007.98,9.7,2008.05,9.9,2008.12,9.7,2008.18,9.6,2008.26,9.9,2008.32,9.8,2008.38,9.4,2008.46,9.7,2008.53,9.8,2008.6,9.85,2008.68,9.6,2008.74,9.5,2008.82,9.5,2008.87,9.6,2008.94,9.5,2009.03,9.3,2009.09,9.4,2009.16,9,2009.22,9.1,2007.26,8,2007.32,8.1,2007.4,7.8,2007.46,7.7,2007.52,7.6,2007.6,7.8,2007.66,7.7,2007.73,7.9,2007.8,7.7,2007.88,7.8,2007.94,7.9,2008.02,7.8,2008.1,7.9,2008.17,7.7,2008.24,7.8,2008.3,7.9,2008.37,7.7,2008.44,7.6,2008.5,7.5,2008.58,7.6,2008.64,7.8,2008.7,7.4,2008.77,7.6,2008.83,7.7,2008.9,7.6,2008.97,7.8,2009.05,7.7,2009.12,7.8,2009.18,7.7,2009.24,7.9];
const rrOut=[2005.46,19,2005.86,20,2005.98,16,2008.09,16,2005.71,15,2005.79,14.67,2007.88,15,2008.39,15,2008.74,15,2007.76,14.5,2006.44,14.74,2006.76,14.67,2009.11,14.67,2009.15,14.67,2005.19,14,2005.29,14,2006.09,14,2006.87,14,2007.06,14,2007.44,14,2007.61,14,2007.97,14,2008.29,14,2005.56,13.67,2006.07,13.67,2006.98,13.83,2006.84,13.5,2008.18,13.75,2007.94,13.5,2008.01,13.5,2005.25,13,2005.33,13,2005.49,13.2,2005.68,13.3,2006.18,13,2006.35,13,2006.48,13,2006.53,12.9,2006.65,13,2006.9,13,2007,13,2007.32,13,2007.82,13.1,2007.86,13,2007.97,13,2008.03,13,2008.22,13,2008.28,13,2008.37,13,2008.45,12.8,2008.5,12.9,2008.86,13,2008.97,13,2009.02,13,2005.17,9.33,2005.48,9,2005.46,8,2005.53,8,2005.7,9,2005.91,9,2006.02,8,2006.13,8,2006.27,9,2006.41,9,2006.63,9,2006.81,8,2005.5,9.5,2005.54,9.5,2006.43,9.5,2006.63,9.5,2005.91,9.5,2007.47,7.46,2007.44,8.5,2007.45,7,2007.53,7,2007.67,9,2007.84,9,2007.96,9,2008.17,8,2008.14,7,2008.18,9.5,2008.35,9.5,2008.51,6,2008.93,8.5,2008.97,8,2009.09,8,2009.15,8,2008.88,9,2008.93,9.23,2008.98,9.33,2009.2,9.5,2008.7,9.23,2008.67,9.43,2008.85,9.6,2007.83,12,2007.9,12,2007.37,12,2007.42,11.9,2007.56,12,2008.1,12,2008.15,12,2008.25,12,2008.55,12,2008.6,12,2008.66,12,2008.72,12.35,2008.82,12.5,2008.95,12.4,2009.1,12.3];
const rrEdge=[2005.12,9.6,2005.18,9.4,2005.25,9.9,2005.32,9.6,2005.39,9.7,2005.46,9.9,2005.6,9.9,2005.66,10,2005.77,10.2,2005.84,10,2005.95,10.1,2006.02,9.9,2006.06,9.7,2006.16,10,2006.23,10,2006.32,10.1,2006.38,9.9,2006.45,9.8,2006.52,9.7,2006.57,9.8,2006.66,10,2006.72,9.8,2006.84,10,2006.91,10,2006.97,10,2007.02,10,2007.08,9.9,2007.27,9.8,2007.33,9.9,2007.41,9.4,2007.47,9.3,2007.54,9.3,2007.6,9.4,2007.69,9.6,2007.77,9.8,2007.83,10,2007.9,9.8,2007.98,9.5,2008.05,9.9,2008.12,10,2008.2,10,2008.27,10,2008.33,10,2008.4,10.2,2008.47,10.1,2008.53,10,2008.58,9.7,2008.64,9.9,2008.72,9.9,2008.8,10,2008.87,10,2008.93,10.1,2009.03,10,2009.09,10.1,2009.15,10.2,2009.21,10];

const panels=[
 {title:"Mean PIP",ylabel:"PIP",core:pipCore,out:pipOut.concat(pipEdge),left:0,top:0,w:400,h:345,ml:49,mr:20,mt:19,mb:65,xd:[2004.885,2009.46],yd:[5.56,37.46],yt:[10,20,30],ym:[15,25,35],lab:48},
 {title:"Mean Vt",ylabel:"Vt",core:vtCore,out:vtOut.concat(vtEdge),left:400,top:0,w:400,h:345,ml:66.7,mr:10,mt:19,mb:65,xd:[2004.88,2009.455],yd:[90.6,906],yt:[250,500,750],ym:[125,375,625,875],lab:56.7},
 {title:"Mean Delta P",ylabel:"Delta P",core:deltaCore,out:deltaOut.concat(deltaEdge),left:800,top:0,w:400,h:345,ml:69,mr:0,mt:19,mb:65,xd:[2004.88,2009.456],yd:[4.65,34.36],yt:[10,20,30],ym:[15,25],lab:48},
 {title:"Mean PEEP",ylabel:"PEEP",core:peepCore,out:peepOut.concat(peepEdge),left:0,top:345,w:400,h:340,ml:41,mr:20,mt:36,mb:43.7,xd:[2004.884,2009.46],yd:[-0.38,8.39],yt:[0,2,4,6,8],ym:[1,3,5,7],lab:40},
 {title:"Mean Vt cc/kg PBW",ylabel:"Vt cc/kg PBW",core:vtKgCore,out:vtKgOut.concat(vtKgEdge),left:400,top:345,w:400,h:340,ml:59,mr:10,mt:36,mb:43.7,xd:[2004.88,2009.46],yd:[1.8,14.69],yt:[5,10],ym:[2.5,7.5,12.5],lab:49},
 {title:"Mean RR",ylabel:"RR",core:rrCore,out:rrOut.concat(rrEdge),left:800,top:345,w:400,h:340,ml:69,mr:0,mt:36,mb:43.7,xd:[2004.88,2009.456],yd:[5.32,20.69],yt:[10,15,20],ym:[7.5,12.5,17.5],lab:48}
];
const root=document.getElementById("chart");
const inkColor="#231F20",labelColor="#A3A3A3";
for(const p of panels){
 const pts=[];
 p.core.forEach((vals,i)=>vals.forEach(v=>pts.push({date:coreDates[i],value:v})));
 for(let i=0;i<p.out.length;i+=2)pts.push({date:p.out[i],value:p.out[i+1]});
 const svg=Plot.plot({
  width:p.w,height:p.h,marginLeft:p.ml,marginRight:p.mr,marginTop:p.mt,marginBottom:p.mb,
  style:{fontFamily:"'Liberation Sans',Arial,sans-serif",background:"transparent",color:inkColor},
  x:{domain:p.xd},y:{domain:p.yd},
  marks:[
   Plot.frame({fill:"#E5E6E7",stroke:null}),
   Plot.ruleX(minorYears,{stroke:"#F0F1F1",strokeWidth:0.7}),
   Plot.ruleY(p.ym,{stroke:"#F0F1F1",strokeWidth:0.7}),
   Plot.ruleX(majorYears,{stroke:"#fff",strokeWidth:1.2}),
   Plot.ruleY(p.yt,{stroke:"#fff",strokeWidth:1.2}),
   Plot.axisX({ticks:majorYears,tickFormat:"d",tickSize:4.5,tickPadding:5.5,stroke:"#8a8a8a",fill:labelColor,fontSize:14,label:null}),
   Plot.axisY({ticks:p.yt,tickSize:4.5,tickPadding:5,stroke:"#8a8a8a",fill:labelColor,fontSize:14,label:null}),
   Plot.axisX({ticks:[],label:"Date",labelAnchor:"center",labelArrow:"none",labelOffset:42.5,fontSize:16.5,fill:inkColor,tickSize:0}),
   Plot.axisY({ticks:[],label:p.ylabel,labelAnchor:"center",labelArrow:"none",labelOffset:p.lab,fontSize:16.5,fill:inkColor,tickSize:0}),
   Plot.dot(pts,{x:"date",y:"value",r:3.25,fill:inkColor,stroke:null}),
   Plot.text([p.title],{frameAnchor:"top",lineAnchor:"bottom",dy:-4.5,fontSize:20,fill:inkColor})
  ]
 });
 svg.style.left=p.left+"px";svg.style.top=p.top+"px";
 root.appendChild(svg);
}
</script></body></html>
